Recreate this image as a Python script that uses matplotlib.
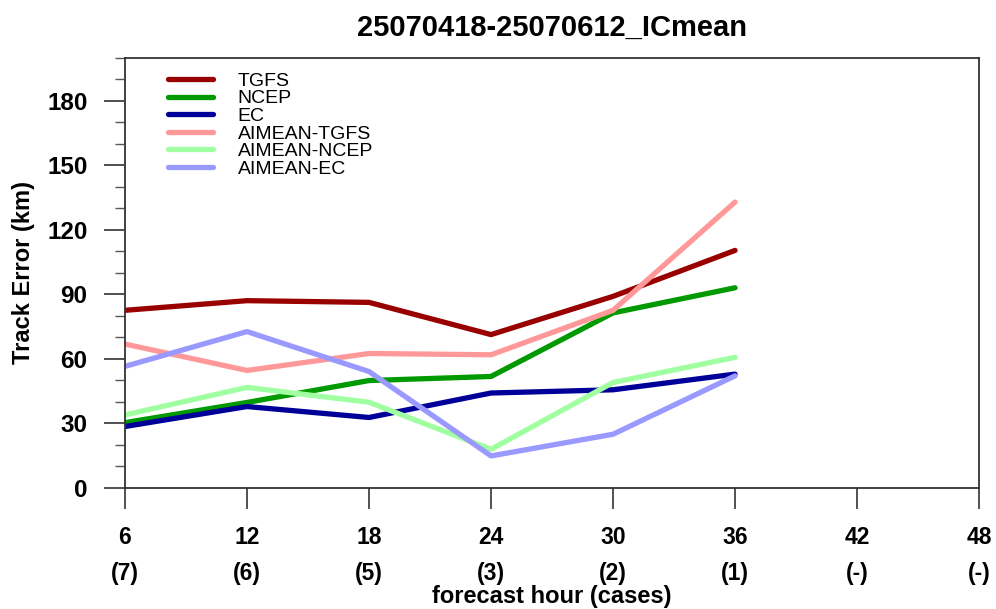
import numpy as np
import matplotlib
matplotlib.use('Agg')
import matplotlib.pyplot as plt
from matplotlib.ticker import MultipleLocator

plt.rcParams['font.family'] = ['Liberation Sans', 'DejaVu Sans']

hours = [6, 12, 18, 24, 30, 36]
cases = ['(7)', '(6)', '(5)', '(3)', '(2)', '(1)', '(-)', '(-)']
tick_hours = [6, 12, 18, 24, 30, 36, 42, 48]

tgfs = [82.5, 87.0, 86.2, 71.2, 89.0, 110.4]
ncep = [30.2, 39.6, 49.8, 51.7, 81.3, 93.0]
ec = [28.4, 37.7, 32.6, 44.0, 45.5, 52.8]
ai_tgfs = [66.8, 54.5, 62.4, 61.8, 82.5, 132.9]
ai_ncep = [33.8, 46.6, 39.7, 17.8, 48.9, 60.6]
ai_ec = [56.4, 72.6, 54.0, 14.7, 24.8, 52.0]

names = ['TGFS', 'NCEP', 'EC', 'AIMEAN-TGFS', 'AIMEAN-NCEP', 'AIMEAN-EC']
colors = ['#990000', '#009900', '#000099', '#ff9999', '#a0ffa0', '#9999ff']

fig = plt.figure(figsize=(9.96, 6.09), dpi=100)
ax = fig.add_axes([0.1255, 0.1995, 0.8575, 0.7053])

for vals, name, c in zip([tgfs, ncep, ec, ai_tgfs, ai_ncep, ai_ec], names, colors):
    ax.plot(hours, vals, color=c, lw=3.8, label=name, solid_capstyle='round')

ax.set_xlim(6, 48)
ax.set_ylim(0, 200)
ax.set_xticks(tick_hours)
ax.set_xticklabels(['%d\n%s' % (h, c) for h, c in zip(tick_hours, cases)],
                   fontsize=16.5, fontweight='bold', linespacing=1.68)
ax.yaxis.set_major_locator(MultipleLocator(30))
ax.yaxis.set_minor_locator(MultipleLocator(10))
ax.set_yticks([0, 30, 60, 90, 120, 150, 180])
for lab in ax.get_yticklabels():
    lab.set_fontsize(17.5)
    lab.set_fontweight('bold')

ax.tick_params(axis='both', which='major', direction='out', length=15, width=1.2, color='#333333')
ax.tick_params(axis='x', pad=13)
ax.tick_params(axis='y', pad=12)
ax.tick_params(axis='y', which='minor', direction='out', length=7, width=1.0, color='#555555')
for s in ax.spines.values():
    s.set_linewidth(1.3)
    s.set_color('#333333')

ax.set_ylabel('Track Error (km)', fontsize=17, fontweight='bold', labelpad=9)
ax.set_xlabel('forecast hour (cases)', fontsize=17, fontweight='bold', labelpad=0)
ax.set_title('25070418-25070612_ICmean', fontsize=21, fontweight='bold', pad=16)

leg = ax.legend(loc='upper left', bbox_to_anchor=(0.041, 0.985), frameon=False,
                fontsize=14, handlelength=2.3, handletextpad=1.3, labelspacing=0.0,
                borderaxespad=0)

fig.savefig('out.png', dpi=100)
